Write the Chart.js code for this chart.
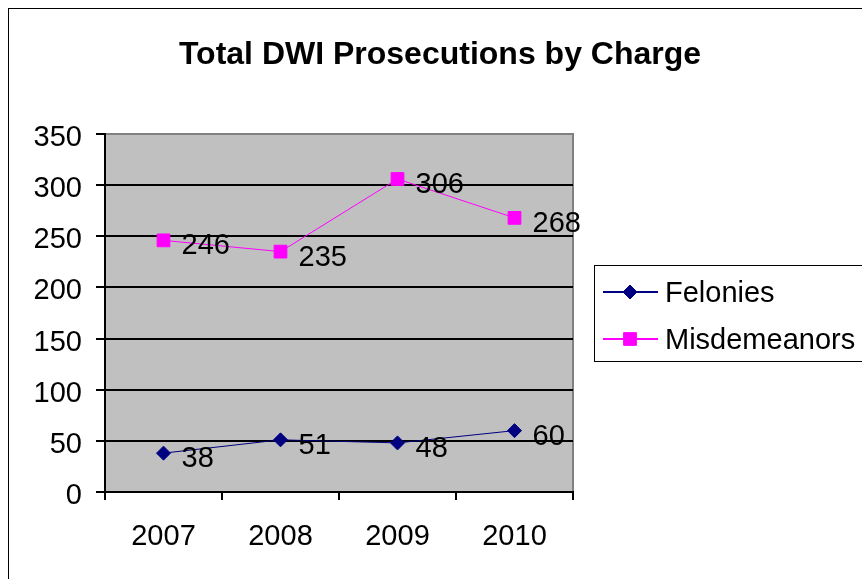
<!DOCTYPE html>
<html>
<head>
<meta charset="utf-8">
<script src="https://cdn.jsdelivr.net/npm/chart.js@4/dist/chart.umd.min.js"></script>
<style>
  body { margin: 0; background: #fff; }
  canvas { display: block; }
</style>
</head>
<body>
<canvas id="chart" width="862" height="579"></canvas>
<script>
const years = ['2007', '2008', '2009', '2010'];
const felonies = [38, 51, 48, 60];
const misdemeanors = [246, 235, 306, 268];
const seriesNames = ['Felonies', 'Misdemeanors'];
const titleText = 'Total DWI Prosecutions by Charge';

const FONT = "'Liberation Sans', Arial, sans-serif";

// gray plot area, outer frame and title
const backdrop = {
	id: 'backdrop',
	beforeDraw(chart) {
		const ctx = chart.ctx;
		const a = chart.chartArea;
		ctx.save();
		ctx.fillStyle = '#fff';
		ctx.fillRect(0, 0, chart.width, chart.height);
		ctx.strokeStyle = '#000';
		ctx.lineWidth = 1;
		ctx.strokeRect(8.5, 8.5, 900, 600);
		ctx.fillStyle = '#c0c0c0';
		ctx.fillRect(a.left, a.top, a.right - a.left, a.bottom - a.top);
		ctx.strokeStyle = '#808080';
		ctx.lineWidth = 2;
		ctx.beginPath();
		ctx.moveTo(a.left, a.top);
		ctx.lineTo(a.right, a.top);
		ctx.lineTo(a.right, a.bottom);
		ctx.stroke();
		ctx.fillStyle = '#000';
		ctx.font = 'bold 32px ' + FONT;
		ctx.textAlign = 'center';
		ctx.textBaseline = 'alphabetic';
		ctx.fillText(titleText, 440, 64);
		ctx.restore();
	},
};

// value labels to the right of each point
const valueLabels = {
	id: 'valueLabels',
	afterDatasetsDraw(chart) {
		const ctx = chart.ctx;
		ctx.save();
		ctx.fillStyle = '#000';
		ctx.font = '29px ' + FONT;
		ctx.textAlign = 'left';
		ctx.textBaseline = 'middle';
		chart.data.datasets.forEach((ds, i) => {
			chart.getDatasetMeta(i).data.forEach((pt, j) => {
				ctx.fillText(String(ds.data[j]), pt.x + 18, pt.y + 6);
			});
		});
		ctx.restore();
	},
};

// Excel style legend box with line + marker
const boxLegend = {
	id: 'boxLegend',
	afterDraw(chart) {
		const ctx = chart.ctx;
		ctx.save();
		ctx.strokeStyle = '#000';
		ctx.lineWidth = 1;
		ctx.strokeRect(594.5, 265.5, 300, 96);
		ctx.font = '29px ' + FONT;
		ctx.textAlign = 'left';
		ctx.textBaseline = 'middle';
		chart.data.datasets.forEach((ds, i) => {
			const y = 292 + i * 47;
			ctx.strokeStyle = ds.borderColor;
			ctx.lineWidth = 2;
			ctx.beginPath();
			ctx.moveTo(603, y);
			ctx.lineTo(658, y);
			ctx.stroke();
			ctx.fillStyle = ds.pointBackgroundColor;
			ctx.strokeStyle = ds.pointBorderColor;
			ctx.lineWidth = 1;
			Chart.helpers.drawPoint(ctx, {
				pointStyle: ds.pointStyle,
				radius: ds.pointRadius,
				borderWidth: 1,
				rotation: 0,
			}, 630, y);
			ctx.fillStyle = '#000';
			ctx.fillText(ds.label, 665, y + 2);
		});
		ctx.restore();
	},
};

new Chart(document.getElementById('chart'), {
	type: 'line',
	data: {
		labels: years,
		datasets: [
			{
				label: seriesNames[0],
				data: felonies,
				borderColor: '#000080',
				backgroundColor: '#000080',
				pointBackgroundColor: '#000080',
				pointBorderColor: '#000080',
				borderWidth: 1,
				pointStyle: 'rectRot',
				pointRadius: 7,
				tension: 0,
			},
			{
				label: seriesNames[1],
				data: misdemeanors,
				borderColor: '#ff00ff',
				backgroundColor: '#ff00ff',
				pointBackgroundColor: '#ff00ff',
				pointBorderColor: '#ff00ff',
				borderWidth: 1,
				pointStyle: 'rect',
				pointRadius: 9,
				tension: 0,
			},
		],
	},
	options: {
		responsive: false,
		animation: false,
		layout: {
			padding: { top: 134, right: 289, bottom: 0, left: 0 },
		},
		scales: {
			x: {
				offset: true,
				afterFit: (scale) => { scale.height = 87; },
				border: { color: '#000', width: 2 },
				grid: {
					offset: true,
					drawOnChartArea: false,
					color: '#000',
					lineWidth: 2,
					tickLength: 8,
				},
				ticks: {
					color: '#000',
					font: { family: FONT, size: 29 },
					padding: 20,
					maxRotation: 0,
				},
			},
			y: {
				min: 0,
				max: 350,
				afterFit: (scale) => { scale.width = 105; },
				border: { color: '#000', width: 2 },
				grid: {
					color: (c) => (c.tick && c.tick.value === 350 ? '#808080' : '#000'),
					tickColor: '#000',
					lineWidth: 2,
					tickLength: 9,
				},
				ticks: {
					stepSize: 50,
					color: '#000',
					font: { family: FONT, size: 29 },
					padding: 14,
					labelOffset: 4,
				},
			},
		},
		plugins: {
			legend: { display: false },
			title: { display: false },
			tooltip: { enabled: false },
		},
	},
	plugins: [backdrop, valueLabels, boxLegend],
});
</script>
</body>
</html>
